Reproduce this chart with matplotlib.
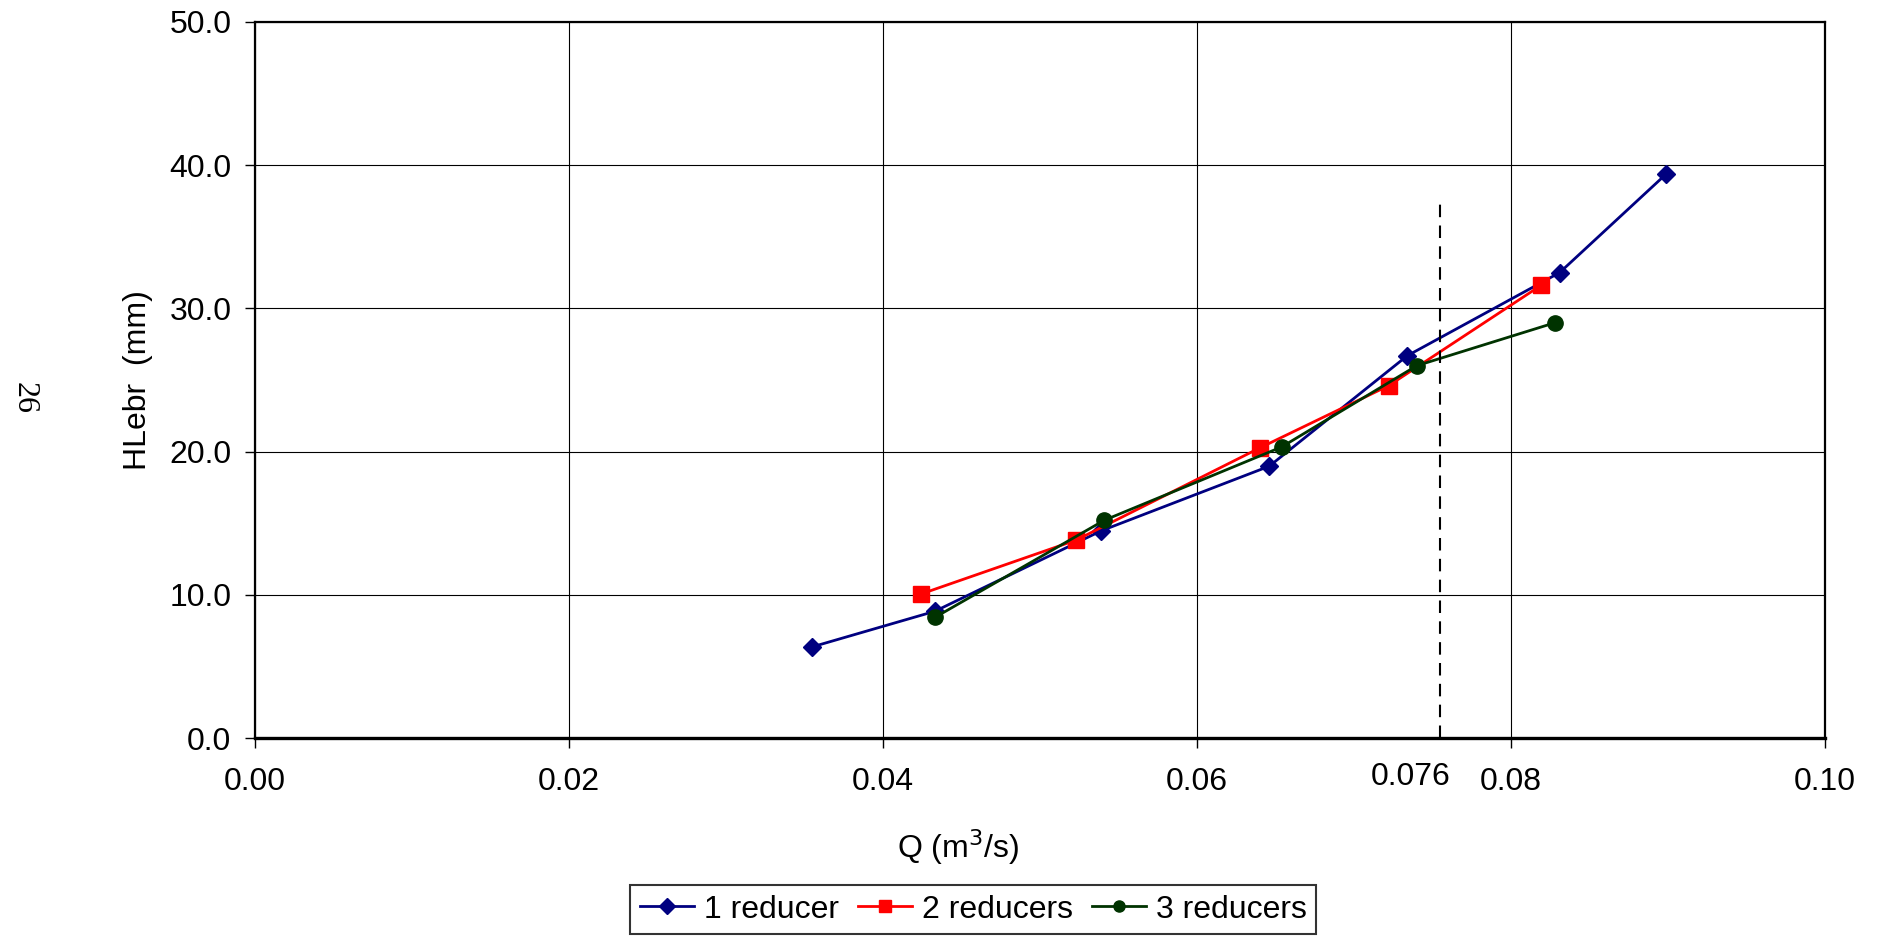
import matplotlib
matplotlib.use('Agg')
import matplotlib.pyplot as plt
from matplotlib.ticker import FormatStrFormatter

plt.rcParams['font.family'] = ['Liberation Sans', 'DejaVu Sans']

# dados
q1 = [0.0355, 0.0433, 0.0539, 0.0646, 0.0734, 0.0831, 0.0899]
h1 = [6.37, 8.85, 14.47, 18.98, 26.7, 32.5, 39.4]

q2 = [0.0424, 0.0523, 0.0640, 0.0722, 0.0819]
h2 = [10.05, 13.82, 20.26, 24.6, 31.6]

q3 = [0.0433, 0.0541, 0.0654, 0.0740, 0.0828]
h3 = [8.42, 15.21, 20.33, 26.0, 29.0]

q_limite = 0.0755
h_limite = 37.5
rotulo_limite = '0.076'

xticks = [0.00, 0.02, 0.04, 0.06, 0.08, 0.10]
yticks = [0, 10, 20, 30, 40, 50]

fig = plt.figure(figsize=(18.81, 9.36), dpi=100)
ax = fig.add_axes([0.1356, 0.2115, 0.8346, 0.765])

ax.plot(q1, h1, color='#000080', marker='D', markersize=9.5, linewidth=2.0,
        label='1 reducer')
ax.plot(q2, h2, color='#FF0000', marker='s', markersize=11.5, linewidth=2.0,
        label='2 reducers')
ax.plot(q3, h3, color='#003300', marker='o', markersize=11, linewidth=2.0,
        label='3 reducers')

# linha vertical tracejada em Q = 0.076
ax.plot([q_limite, q_limite], [0, h_limite], color='black', linewidth=1.5,
        linestyle=(0, (6, 4)))
ax.text(0.0736, -0.054, rotulo_limite, transform=ax.get_xaxis_transform(),
        ha='center', va='center', fontsize=23)

ax.set_xlim(0, 0.10)
ax.set_ylim(0, 50)
ax.set_xticks(xticks)
ax.set_yticks(yticks)
ax.xaxis.set_major_formatter(FormatStrFormatter('%.2f'))
ax.yaxis.set_major_formatter(FormatStrFormatter('%.1f'))
ax.tick_params(axis='both', direction='out', length=7, width=1,
               labelsize=23)
ax.tick_params(axis='x', pad=14)
ax.tick_params(axis='y', pad=10)
ax.grid(True, color='black', linewidth=0.8)
ax.set_axisbelow(True)
for s in ax.spines.values():
    s.set_linewidth(1.6)
ax.spines['bottom'].set_linewidth(2.4)

ax.set_xlabel('Q (m$^3$/s)', fontsize=23)
ax.xaxis.set_label_coords(0.448, -0.124)
ax.set_ylabel('HLebr  (mm)', fontsize=23)
ax.yaxis.set_label_coords(-0.065, 0.5)

fig.text(0.013, 0.575, '26', rotation=-90, ha='center', va='center',
         fontsize=23, family='Liberation Serif')

leg = fig.legend(loc='upper center', bbox_to_anchor=(0.5175, 0.0545), ncol=3,
                 fontsize=23, frameon=True, fancybox=False, edgecolor='black',
                 borderpad=0.3, handlelength=1.7, handletextpad=0.3,
                 columnspacing=0.6, borderaxespad=0)
leg.get_frame().set_linewidth(1.5)
for h in leg.legend_handles:
    h.set_markersize(8)

fig.savefig('out.png', dpi=100)
